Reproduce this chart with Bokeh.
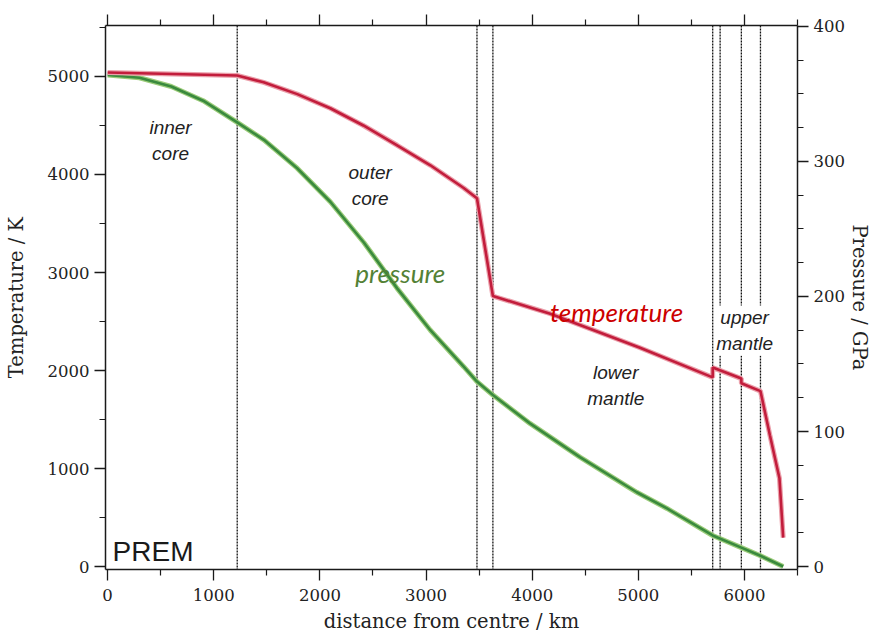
from bokeh.plotting import figure
from bokeh.models import Range1d, LinearAxis, FixedTicker, Span, Label
from bokeh.embed import file_html
from bokeh.resources import INLINE

# ---- data (PREM profile) ----
radius_temp_km = [0, 1221, 1470, 1787, 2098, 2410, 2728, 3041, 3355, 3480,
                  3630, 4170, 5010, 5701, 5701, 5971, 5971, 6151, 6240, 6330, 6365]
temperature_K = [5040, 5010, 4940, 4820, 4676, 4500, 4298, 4094, 3862, 3758,
                 2760, 2580, 2235, 1930, 2030, 1918, 1870, 1790, 1340, 900, 296]

radius_pres_km = [0, 300, 600, 900, 1221, 1472, 1786, 2100, 2414, 2728, 3041,
                  3355, 3480, 3630, 3979, 4450, 4986, 5270, 5701, 5971, 6151, 6365]
pressure_GPa = [364, 362, 355.5, 345, 329, 316, 295, 270, 240, 206, 175,
                148, 137, 127, 106, 81, 55, 43, 23, 14, 8, 0]

boundaries_km = [1221, 3480, 3630, 5701, 5771, 5971, 6151]

x_major_ticks = [0, 1000, 2000, 3000, 4000, 5000, 6000]
x_minor_ticks = [500, 1500, 2500, 3500, 4500, 5500, 6500]
t_major_ticks = [0, 1000, 2000, 3000, 4000, 5000]
t_minor_ticks = [500, 1500, 2500, 3500, 4500, 5500]
p_major_ticks = [0, 100, 200, 300, 400]
p_minor_ticks = [25, 50, 75, 125, 150, 175, 225, 250, 275, 325, 350, 375]

SERIF = "DejaVu Serif"
SANS = "Liberation Sans"

p = figure(width=873, height=637, output_backend="svg", toolbar_location=None,
           x_range=Range1d(-20, 6500), y_range=Range1d(-30, 5520),
           min_border_left=105, min_border_right=76,
           min_border_top=25, min_border_bottom=68)
p.extra_y_ranges = {"p": Range1d(-2.2, 400.7)}
p.grid.visible = False
p.outline_line_color = None
p.background_fill_color = "white"
p.border_fill_color = "white"


def style_axis(ax, major, minor):
    ax.ticker = FixedTicker(ticks=major, minor_ticks=minor)
    ax.axis_line_color = "#1a1a1a"
    ax.axis_line_width = 1.5
    ax.major_tick_line_color = "#1a1a1a"
    ax.minor_tick_line_color = "#1a1a1a"
    ax.major_tick_line_width = 1.3
    ax.minor_tick_line_width = 1.2
    ax.major_tick_in = 0
    ax.major_tick_out = 11
    ax.minor_tick_in = 0
    ax.minor_tick_out = 6
    ax.major_label_text_font = SERIF
    ax.major_label_text_font_size = "16.5px"
    ax.major_label_text_color = "#222222"
    ax.axis_label_text_font = SERIF
    ax.axis_label_text_font_size = "19.5px"
    ax.axis_label_text_font_style = "normal"
    ax.axis_label_text_color = "#222222"


xb = p.xaxis[0]
style_axis(xb, x_major_ticks, x_minor_ticks)
xb.axis_label = "distance from centre / km"
xb.major_label_standoff = 8
xb.axis_label_standoff = 6

yl = p.yaxis[0]
style_axis(yl, t_major_ticks, t_minor_ticks)
yl.axis_label = "Temperature / K"
yl.major_label_standoff = 5
yl.axis_label_standoff = 17

xt = LinearAxis()
style_axis(xt, x_major_ticks, x_minor_ticks)
xt.major_label_text_color = None
xt.major_label_text_font_size = "2px"
xt.major_label_standoff = 0
p.add_layout(xt, "above")

yr = LinearAxis(y_range_name="p")
style_axis(yr, p_major_ticks, p_minor_ticks)
yr.axis_label = "Pressure / GPa"
yr.major_label_standoff = 5
yr.axis_label_standoff = 0
p.add_layout(yr, "right")

# region boundaries
for b in boundaries_km:
    p.add_layout(Span(location=b, dimension="height", line_color="#111111",
                      line_width=1.3, line_dash="2 1", level="underlay"))

# curves
p.line(radius_pres_km, pressure_GPa, y_range_name="p", line_color="#9ccc7a", line_width=5)
p.line(radius_pres_km, pressure_GPa, y_range_name="p", line_color="#3a8a3e", line_width=2.6)
p.line(radius_temp_km, temperature_K, line_color="#eba0ab", line_width=5)
p.line(radius_temp_km, temperature_K, line_color="#c21d3c", line_width=2.6)

# annotations
def region_label(x, y, text, bg=None):
    lab = Label(x=x, y=y, text=text, text_font=SANS, text_font_style="italic",
                text_font_size="19px", text_color="#222222", text_align="center",
                text_baseline="middle", text_line_height=1.2)
    if bg:
        lab.background_fill_color = bg
        lab.padding = 2
    p.add_layout(lab)


region_label(593, 4347, "inner\ncore")
region_label(2474, 3888, "outer\ncore")
region_label(4788, 1847, "lower\nmantle")
region_label(6002, 2408, "upper\nmantle", bg="white")

p.add_layout(Label(x=2333, y=3000, text="pressure", text_font="Lato",
                   text_font_style="italic", text_font_size="26px",
                   text_color="#538135", text_align="left", text_baseline="middle"))
p.add_layout(Label(x=4167, y=2592, text="temperature", text_font="Lato",
                   text_font_style="italic", text_font_size="26px",
                   text_color="#cc0000", text_align="left", text_baseline="middle"))
p.add_layout(Label(x=47, y=150, text="PREM", text_font=SANS,
                   text_font_size="28px", text_color="#1a1a1a",
                   text_align="left", text_baseline="alphabetic"))

open("out.html", "w").write(file_html(p, INLINE))
